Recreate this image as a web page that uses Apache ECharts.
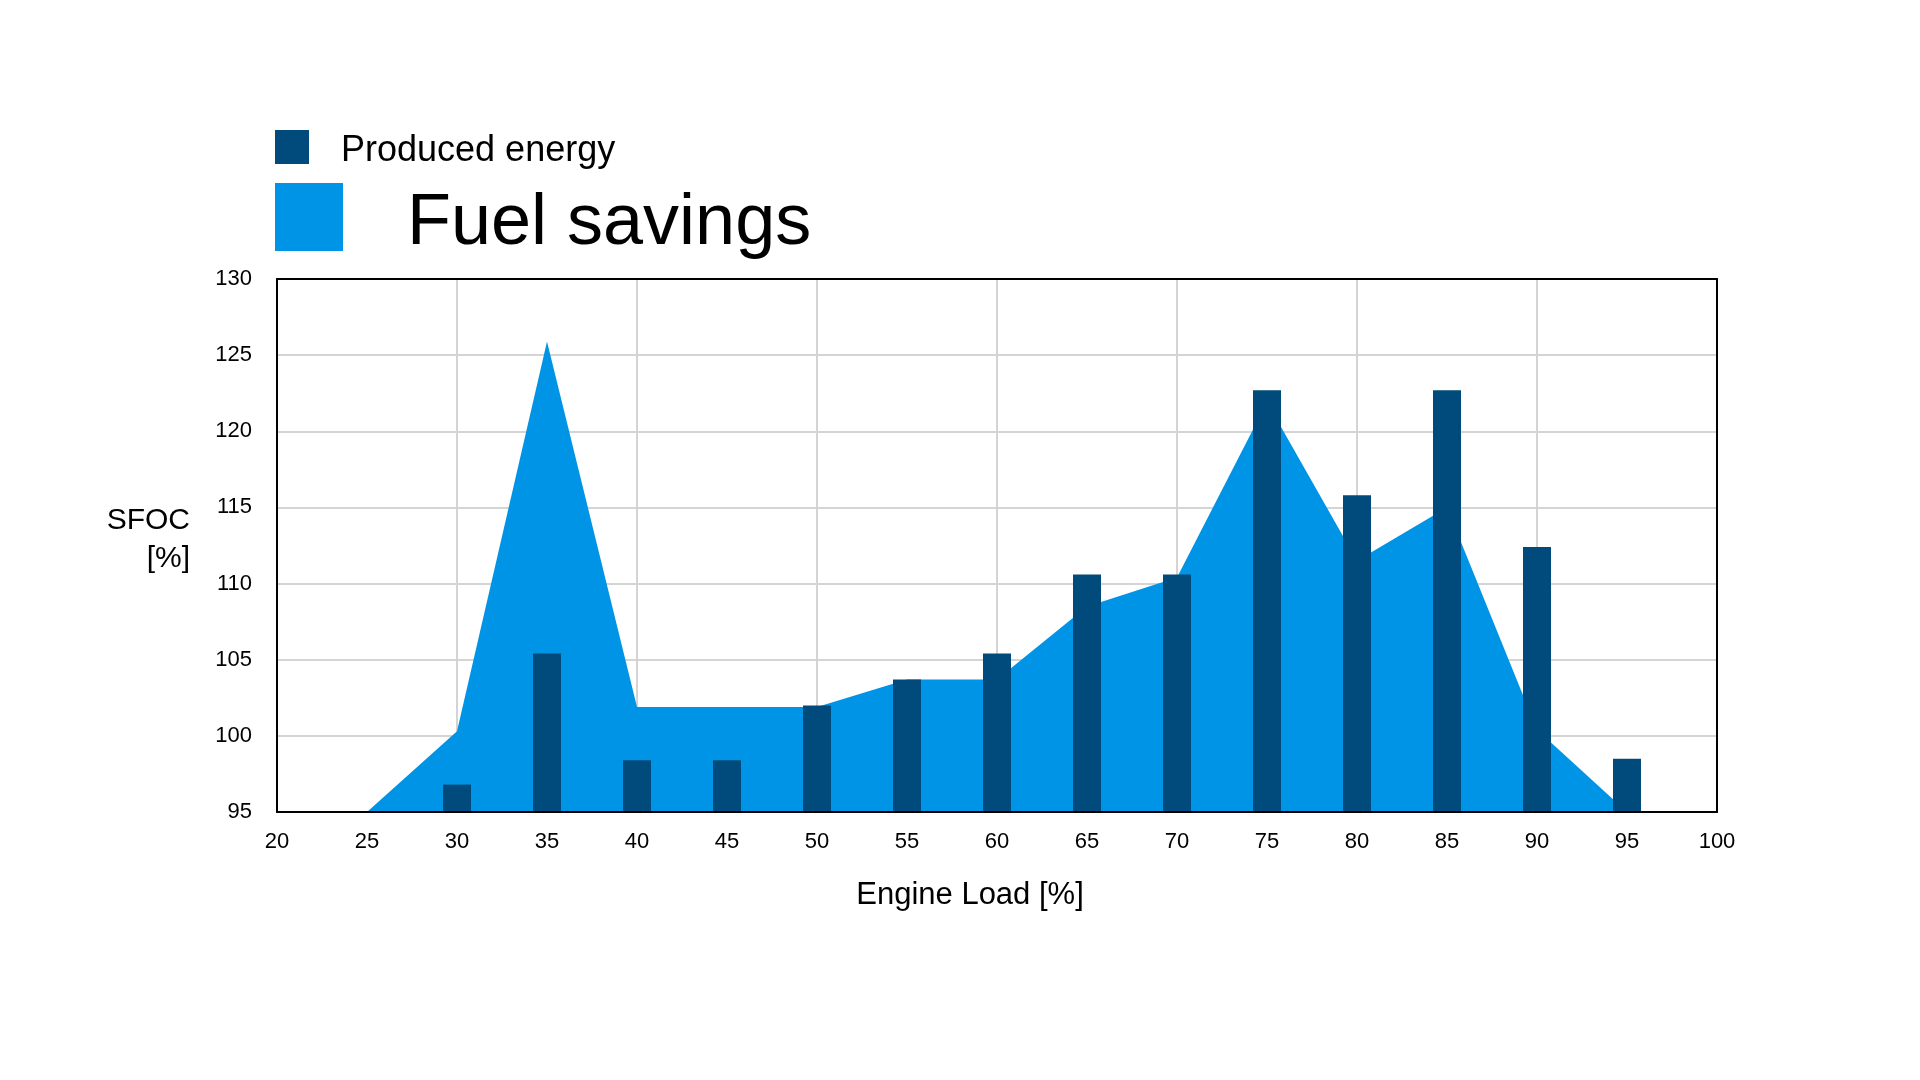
<!DOCTYPE html>
<html>
<head>
<meta charset="utf-8">
<script src="https://cdn.jsdelivr.net/npm/echarts@6/dist/echarts.min.js"></script>
<style>
html,body{margin:0;padding:0;background:#fff;}
#chart{width:1920px;height:1080px;}
</style>
</head>
<body>
<div id="chart"></div>
<script>
// Produced energy bars (engine load %, SFOC %)
const barLoads = [30, 35, 40, 45, 50, 55, 60, 65, 70, 75, 80, 85, 90, 95];
const producedEnergy = [96.8, 105.4, 98.4, 98.4, 102.0, 103.7, 105.4, 110.6, 110.6, 122.7, 115.8, 122.7, 112.4, 98.5];
// Fuel savings area
const areaLoads = [25, 30, 35, 40, 45, 50, 55, 60, 65, 70, 75, 80, 85, 90, 95];
const fuelSavings = [95, 100.3, 125.9, 101.9, 101.9, 101.9, 103.7, 103.7, 108.5, 110.4, 121.9, 111.5, 115.0, 100.4, 95.0];
// Axis settings
const xMin = 20, xMax = 100, xStep = 5, xGridStep = 10;
const yMin = 95, yMax = 130, yStep = 5;

const FONT = '"Liberation Sans", Arial, sans-serif';
const DARK = '#004B7B';
const LIGHT = '#0094E6';
const GRID = '#d4d4d4';
const BORDER = {show: true, lineStyle: {color: '#000', width: 2}};

const chart = echarts.init(document.getElementById('chart'), null, {renderer: 'canvas'});
chart.setOption({
  animation: false,
  backgroundColor: '#ffffff',
  textStyle: {fontFamily: FONT},
  legend: [
    {
      data: [{name: 'Produced energy', icon: 'rect'}],
      left: 275, top: 130, padding: 0,
      itemWidth: 34, itemHeight: 34,
      selectedMode: false,
      formatter: '{t|{name}}',
      textStyle: {
        fontSize: 36, color: '#000', fontFamily: FONT,
        rich: {t: {fontSize: 36, color: '#000', fontFamily: FONT, padding: [8, 0, 0, 27]}}
      }
    },
    {
      data: [{name: 'Fuel savings', icon: 'rect'}],
      left: 275, top: 183, padding: 0,
      itemWidth: 68, itemHeight: 68,
      selectedMode: false,
      formatter: '{t|{name}}',
      textStyle: {
        fontSize: 72, color: '#000', fontFamily: FONT,
        rich: {t: {fontSize: 72, color: '#000', fontFamily: FONT, padding: [14, 0, 0, 59]}}
      }
    }
  ],
  grid: {
    left: 277, right: 203, top: 279, bottom: 268, containLabel: false
  },
  xAxis: [
    {
      type: 'value', min: xMin, max: xMax, interval: xStep, position: 'bottom', z: 10,
      name: 'Engine Load [%]', nameLocation: 'middle', nameGap: 68,
      nameTextStyle: {fontSize: 31, color: '#000', fontFamily: FONT, padding: [0, 54, 0, 0]},
      axisLine: BORDER,
      axisTick: {show: false},
      axisLabel: {fontSize: 22, color: '#000', margin: 19, fontFamily: FONT},
      splitLine: {show: false}
    },
    {
      type: 'value', min: xMin, max: xMax, interval: xStep, position: 'top', z: 10,
      axisLine: BORDER, axisTick: {show: false}, axisLabel: {show: false}, splitLine: {show: false}
    },
    {
      type: 'value', min: xMin, max: xMax, interval: xGridStep, position: 'bottom', z: 0,
      axisLine: {show: false}, axisTick: {show: false}, axisLabel: {show: false},
      splitLine: {show: true, lineStyle: {color: GRID, width: 2}}
    }
  ],
  yAxis: [
    {
      type: 'value', min: yMin, max: yMax, interval: yStep, position: 'left', z: 10,
      name: '{a|SFOC}\n{a|[%]}\n{b| }', nameLocation: 'middle', nameRotate: 0, nameGap: 87,
      nameTextStyle: {
        align: 'right',
        rich: {
          a: {fontSize: 30, color: '#000', lineHeight: 38, fontFamily: FONT, align: 'right'},
          b: {fontSize: 1, lineHeight: 12}
        }
      },
      axisLine: BORDER,
      axisTick: {show: false},
      axisLabel: {fontSize: 22, color: '#000', margin: 25, fontFamily: FONT},
      splitLine: {show: false}
    },
    {
      type: 'value', min: yMin, max: yMax, interval: yStep, position: 'right', z: 10,
      axisLine: BORDER, axisTick: {show: false}, axisLabel: {show: false}, splitLine: {show: false}
    },
    {
      type: 'value', min: yMin, max: yMax, interval: yStep, position: 'left', z: 0,
      axisLine: {show: false}, axisTick: {show: false}, axisLabel: {show: false},
      splitLine: {show: true, lineStyle: {color: GRID, width: 2}}
    }
  ],
  series: [
    {
      name: 'Produced energy',
      type: 'bar',
      xAxisIndex: 0, yAxisIndex: 0,
      data: barLoads.map((x, i) => [x, producedEnergy[i]]),
      barWidth: 28,
      itemStyle: {color: DARK},
      z: 3
    },
    {
      name: 'Fuel savings',
      type: 'line',
      xAxisIndex: 0, yAxisIndex: 0,
      data: areaLoads.map((x, i) => [x, fuelSavings[i]]),
      symbol: 'none',
      lineStyle: {width: 0},
      itemStyle: {color: LIGHT},
      areaStyle: {color: LIGHT, opacity: 1, origin: 'start'},
      z: 2
    }
  ]
});
</script>
</body>
</html>
